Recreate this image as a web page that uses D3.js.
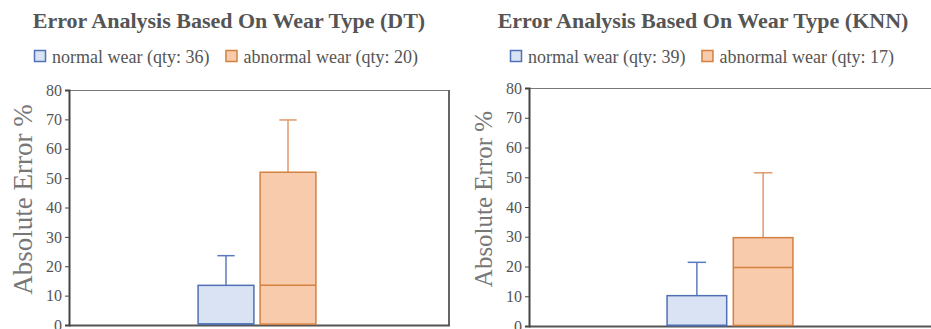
<!DOCTYPE html>
<html>
<head>
<meta charset="utf-8">
<script src="https://cdn.jsdelivr.net/npm/d3@7/dist/d3.min.js"></script>
<style>
  body { margin: 0; background: #fff; }
</style>
</head>
<body>
<div id="chart"></div>
<script>
// values
var series = ['normal wear', 'abnormal wear'];
var models = ['DT', 'KNN'];
var qty = { DT: [36, 20], KNN: [39, 17] };
// [min, q1, median, q3, max] per series
var statsDT = [[0, 0.3, 0.3, 13.5, 23.6], [0, 0.3, 13.5, 52, 69.8]];
var statsKNN = [[0, 0.2, 0.2, 10.2, 21.4], [0, 0.2, 19.7, 29.7, 51.5]];
var yTicks = [0, 10, 20, 30, 40, 50, 60, 70, 80];

var fills = ['#dae3f3', '#f8cbad'];
var strokes = ['#4f71b4', '#d4803f'];
var whiskerStrokes = ['#5a7bbb', '#e0996a'];
var serif = '"Liberation Serif", "DejaVu Serif", serif';

var W = 931, H = 329;
var svg = d3.select('#chart').append('svg')
    .attr('width', W)
    .attr('height', H);

// panel layouts
var panels = [
    { model: 'DT', stats: statsDT, x0: 69, x1: 449, y0: 90, y1: 325, titleX: 229, legendX: 34, labelSize: 27 },
    { model: 'KNN', stats: statsKNN, x0: 529, x1: 935, y0: 88, y1: 326, titleX: 703, legendX: 510, labelSize: 25 }
];

panels.forEach(function (p) {
    var g = svg.append('g');

    var y = d3.scaleLinear().domain([0, 80]).range([p.y1, p.y0]);
    var groupW = (p.x1 - p.x0) * 0.31;
    var xSub = d3.scaleBand().domain(series)
        .range([0, groupW])
        .paddingInner(0.1);
    var groupStart = p.x0 + (p.x1 - p.x0) / 2 - groupW / 2 - 2;

    // title
    g.append('text')
        .attr('x', p.titleX)
        .attr('y', 28)
        .attr('text-anchor', 'middle')
        .style('font-family', serif)
        .style('font-size', '22px')
        .style('font-weight', 'bold')
        .attr('fill', '#555')
        .text('Error Analysis Based On Wear Type (' + p.model + ')');

    // legend
    var leg = g.append('g').attr('transform', 'translate(' + p.legendX + ',0)');
    var lx = 0;
    series.forEach(function (s, i) {
        leg.append('rect')
            .attr('x', lx + 0.5).attr('y', 50.5)
            .attr('width', 11).attr('height', 11)
            .attr('fill', fills[i]).attr('stroke', strokes[i]).attr('stroke-width', 1.5);
        var t = leg.append('text')
            .attr('x', lx + 18).attr('y', 63)
            .style('font-family', serif)
            .style('font-size', '18px')
            .attr('fill', '#555')
            .text(s + ' (qty: ' + qty[p.model][i] + ')');
        lx += 18 + t.node().getComputedTextLength() + 16;
    });

    // plot frame: thin top, heavier right/bottom
    g.append('line')
        .attr('x1', p.x0).attr('x2', p.x1).attr('y1', p.y0 + 0.5).attr('y2', p.y0 + 0.5)
        .attr('stroke', '#777').attr('stroke-width', 1);
    g.append('line')
        .attr('x1', p.x1).attr('x2', p.x1).attr('y1', p.y0).attr('y2', p.y1 + 1)
        .attr('stroke', '#666').attr('stroke-width', 2);
    g.append('line')
        .attr('x1', p.x0).attr('x2', p.x1 + 1).attr('y1', p.y1 + 0.5).attr('y2', p.y1 + 0.5)
        .attr('stroke', '#555').attr('stroke-width', 2);

    // y axis
    var yAxis = d3.axisLeft(y).tickValues(yTicks).tickSize(4).tickPadding(3);
    var ya = g.append('g')
        .attr('transform', 'translate(' + p.x0 + ',0)')
        .call(yAxis);
    ya.select('.domain').attr('stroke', '#444').attr('stroke-width', 2);
    ya.selectAll('.tick line').attr('stroke', '#444');
    ya.selectAll('.tick text')
        .style('font-family', serif)
        .style('font-size', '16px')
        .attr('fill', '#555');

    g.append('text')
        .attr('transform', 'translate(' + (p.x0 - 37) + ',' + ((p.y0 + p.y1) / 2 - 8) + ') rotate(-90)')
        .attr('text-anchor', 'middle')
        .style('font-family', serif)
        .style('font-size', p.labelSize + 'px')
        .attr('fill', '#777')
        .text('Absolute Error %');

    // boxes
    var boxes = g.selectAll('.box').data(p.stats).enter().append('g').attr('class', 'box');
    boxes.each(function (d, i) {
        var b = d3.select(this);
        var bx = groupStart + xSub(series[i]);
        var bw = xSub.bandwidth();
        var cx = bx + bw / 2;
        var capW = bw * 0.31;
        // upper whisker
        b.append('line')
            .attr('x1', cx).attr('x2', cx).attr('y1', y(d[3])).attr('y2', y(d[4]))
            .attr('stroke', whiskerStrokes[i]).attr('stroke-width', 1.5);
        b.append('line')
            .attr('x1', cx - capW / 2).attr('x2', cx + capW / 2).attr('y1', y(d[4])).attr('y2', y(d[4]))
            .attr('stroke', whiskerStrokes[i]).attr('stroke-width', 1.5);
        // box
        b.append('rect')
            .attr('x', bx).attr('y', y(d[3]))
            .attr('width', bw).attr('height', y(d[1]) - y(d[3]))
            .attr('fill', fills[i]).attr('stroke', strokes[i]).attr('stroke-width', 1.5);
        // median
        b.append('line')
            .attr('x1', bx).attr('x2', bx + bw).attr('y1', y(d[2])).attr('y2', y(d[2]))
            .attr('stroke', strokes[i]).attr('stroke-width', 1.5);
    });
});
</script>
</body>
</html>
